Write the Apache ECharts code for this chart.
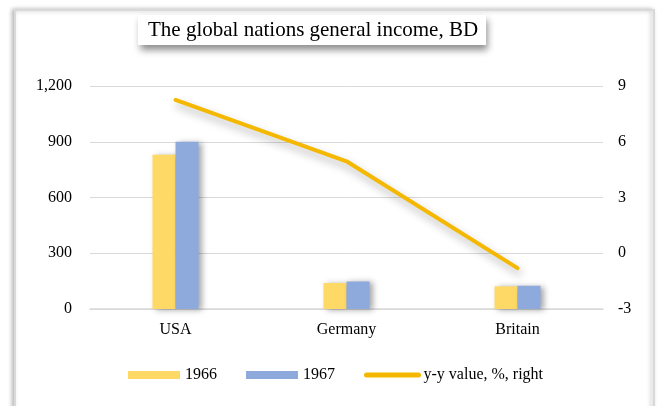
<!DOCTYPE html>
<html><head><meta charset="utf-8">
<script src="https://cdn.jsdelivr.net/npm/echarts@6/dist/echarts.min.js"></script>
<style>html,body{margin:0;padding:0;background:#fff}#c{width:660px;height:406px}</style>
</head><body><div id="c"></div>
<script>
var titleText = 'The global nations general income, BD';
var categories = ['USA', 'Germany', 'Britain'];
var seriesNames = ['1966', '1967', 'y-y value, %, right'];
var values1966 = [830, 140, 122];
var values1967 = [900, 148, 125];
var yyValues = [8.25, 4.95, -0.8];
var leftTicks = {min: 0, max: 1200, interval: 300};
var rightTicks = {min: -3, max: 9, interval: 3};

var FONT = '"Liberation Serif", "Times New Roman", serif';
var chart = echarts.init(document.getElementById('c'), null, {renderer: 'canvas'});
chart.setOption({
  backgroundColor: '#fff',
  animation: false,
  textStyle: {fontFamily: FONT},
  graphic: [{
    type: 'rect', z: -10, silent: true,
    shape: {x: 15, y: 10, width: 639, height: 430},
    style: {fill: '#fff', stroke: '#d9d9d9', lineWidth: 2,
      shadowBlur: 4, shadowColor: 'rgba(0,0,0,0.25)', shadowOffsetX: -2, shadowOffsetY: 0}
  }],
  title: {
    text: titleText,
    left: 138, top: 15,
    padding: [4, 8, 4, 10],
    backgroundColor: '#fff',
    shadowBlur: 7, shadowColor: 'rgba(0,0,0,0.45)', shadowOffsetX: 2, shadowOffsetY: 5,
    textStyle: {fontFamily: FONT, fontSize: 21, fontWeight: 'normal', color: '#000', lineHeight: 22}
  },
  legend: {
    left: 123, top: 362,
    itemGap: 29, itemWidth: 52, itemHeight: 8,
    textStyle: {fontFamily: FONT, fontSize: 16, color: '#000'},
    data: [
      {name: seriesNames[0], icon: 'rect'},
      {name: seriesNames[1], icon: 'rect'},
      {name: seriesNames[2], itemStyle: {opacity: 0}, lineStyle: {width: 5, cap: 'round', color: '#F5B800'}}
    ]
  },
  grid: {left: 90, right: 57, top: 86, bottom: 97, containLabel: false},
  xAxis: {
    type: 'category', data: categories,
    axisLine: {lineStyle: {color: '#d9d9d9', width: 1.5}},
    axisTick: {show: false},
    axisLabel: {color: '#000', fontSize: 16, fontFamily: FONT, margin: 13}
  },
  yAxis: [{
    type: 'value', min: leftTicks.min, max: leftTicks.max, interval: leftTicks.interval,
    axisLine: {show: false}, axisTick: {show: false},
    splitLine: {lineStyle: {color: '#d9d9d9', width: 1}},
    axisLabel: {color: '#000', fontSize: 16, fontFamily: FONT, margin: 18,
      formatter: function (v) { return v.toLocaleString('en-US'); }}
  }, {
    type: 'value', min: rightTicks.min, max: rightTicks.max, interval: rightTicks.interval,
    axisLine: {show: false}, axisTick: {show: false}, splitLine: {show: false},
    axisLabel: {color: '#000', fontSize: 16, fontFamily: FONT, margin: 15}
  }],
  series: [{
    name: seriesNames[0], type: 'bar', data: values1966,
    barWidth: 23, barGap: '0%',
    itemStyle: {color: '#FFD966', shadowBlur: 6, shadowColor: 'rgba(0,0,0,0.35)', shadowOffsetX: 3, shadowOffsetY: 1}
  }, {
    name: seriesNames[1], type: 'bar', data: values1967,
    barWidth: 23, barGap: '0%',
    itemStyle: {color: '#8EA9DB', shadowBlur: 6, shadowColor: 'rgba(0,0,0,0.35)', shadowOffsetX: 3, shadowOffsetY: 1}
  }, {
    name: seriesNames[2], type: 'line', yAxisIndex: 1, data: yyValues,
    symbol: 'none', showSymbol: false,
    lineStyle: {color: '#F5B800', width: 4, cap: 'round', join: 'round',
      shadowBlur: 8, shadowColor: 'rgba(0,0,0,0.3)', shadowOffsetX: 2, shadowOffsetY: 5},
    itemStyle: {color: '#F5B800'}
  }]
});
</script></body></html>
